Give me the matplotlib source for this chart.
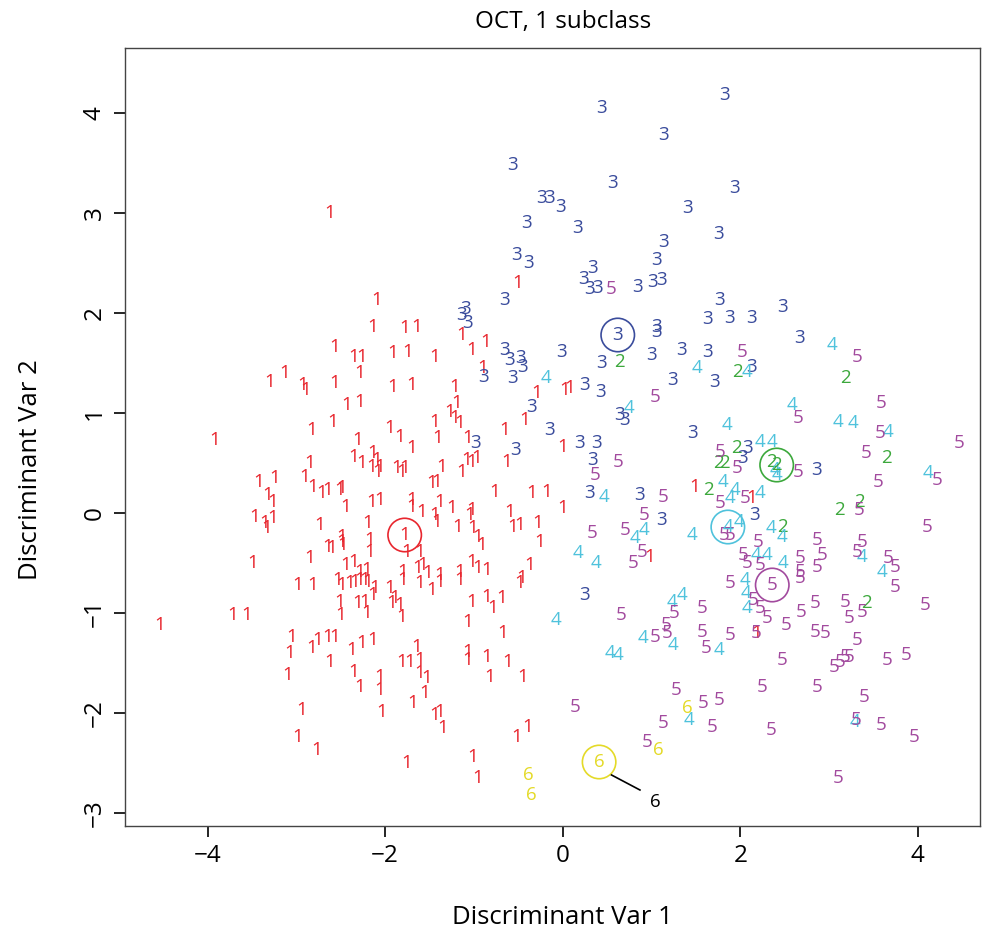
import matplotlib
matplotlib.use("Agg")
import matplotlib.pyplot as plt

plt.rcParams['font.family'] = ['Open Sans', 'DejaVu Sans']

# discriminant scores, one list of (var1, var2) per class
class1 = [(-2.62, 3.00), (-2.09, 2.13), (-2.57, 1.66), (-3.30, 1.31), (-3.13, 1.40),
          (-2.93, 1.28), (-2.89, 1.23), (-2.57, 1.30), (-3.92, 0.73), (-2.83, 0.83),
          (-2.59, 0.91), (-3.43, 0.31), (-3.24, 0.35), (-3.32, 0.18), (-3.27, 0.11),
          (-2.91, 0.36), (-2.85, 0.50), (-2.82, 0.26), (-2.71, 0.20), (-2.65, 0.23),
          (-2.51, 0.23), (-3.47, -0.04), (-3.36, -0.10), (-3.33, -0.15), (-3.27, -0.05),
          (-2.74, -0.12), (-2.65, -0.34), (-2.60, -0.35), (-2.49, -0.29), (-3.49, -0.50),
          (-2.85, -0.45), (-4.54, -1.12), (-3.72, -1.02), (-3.56, -1.02),
          (-2.98, -0.72), (-2.82, -0.72), (-2.53, -0.67), (-2.49, -0.72), (-2.51, -0.89),
          (-2.50, -1.02), (-3.05, -1.24), (-3.07, -1.40), (-2.83, -1.35), (-2.76, -1.27),
          (-2.65, -1.24), (-2.57, -1.24), (-2.62, -1.49), (-3.10, -1.62), (-2.94, -1.97),
          (-2.98, -2.24), (-2.77, -2.37),
          (-2.14, 1.86), (-1.78, 1.85), (-1.64, 1.86), (-1.14, 1.78), (-1.02, 1.63),
          (-0.87, 1.71), (-2.36, 1.56), (-2.26, 1.56), (-2.29, 1.40), (-1.91, 1.60),
          (-1.75, 1.61), (-1.44, 1.56), (-0.90, 1.45), (-1.91, 1.26), (-1.70, 1.28),
          (-1.22, 1.26), (-2.43, 1.08), (-2.29, 1.11), (-1.19, 1.10), (-1.27, 1.01),
          (-1.22, 0.95), (-1.16, 0.90), (-0.29, 1.20), (-0.43, 0.93), (-0.65, 0.83),
          (-1.44, 0.91), (-1.41, 0.75), (-1.95, 0.85), (-1.84, 0.76), (-2.31, 0.73),
          (-1.70, 0.65), (-1.07, 0.75), (-2.36, 0.56), (-2.26, 0.50), (-2.15, 0.46),
          (-2.14, 0.60), (-2.10, 0.53), (-2.08, 0.41), (-2.06, 0.46), (-1.87, 0.45),
          (-1.81, 0.41), (-1.78, 0.45), (-1.48, 0.30), (-1.42, 0.31), (-1.36, 0.46),
          (-1.14, 0.41), (-1.08, 0.53), (-1.02, 0.51), (-0.97, 0.55), (-0.63, 0.51),
          (-2.49, 0.25), (-2.45, 0.06), (-2.15, 0.11), (-2.06, 0.13), (-1.70, 0.13),
          (-1.70, 0.06), (-1.59, 0.01), (-1.44, -0.02), (-1.42, -0.09), (-1.39, 0.11),
          (-1.25, 0.05), (-1.02, 0.03), (-1.05, -0.02), (-0.77, 0.21), (-0.35, 0.20),
          (-0.18, 0.21), (-0.60, 0.01), (-0.56, -0.14), (-0.48, -0.12), (-0.28, -0.10),
          (-0.26, -0.29), (-2.20, -0.10), (-2.17, -0.27), (-2.17, -0.39), (-2.49, -0.24),
          (-2.48, -0.32), (-1.76, -0.39), (-1.61, -0.39), (-1.18, -0.14), (-1.01, -0.15),
          (-0.96, -0.24), (-0.91, -0.32), (-2.45, -0.52), (-2.36, -0.49), (-2.29, -0.59),
          (-2.21, -0.57), (-1.80, -0.59), (-1.63, -0.55), (-1.58, -0.52), (-1.52, -0.60),
          (-1.39, -0.62), (-1.16, -0.59), (-1.02, -0.49), (-0.96, -0.55), (-0.86, -0.57),
          (-0.37, -0.52), (-0.46, -0.65),
          (-2.40, -0.70), (-2.34, -0.69), (-2.29, -0.67), (-2.23, -0.67), (-2.20, -0.69),
          (-2.31, -0.90), (-2.23, -0.89), (-2.21, -1.00), (-2.14, -0.82), (-2.12, -0.75),
          (-1.95, -0.75), (-1.93, -0.90), (-1.89, -0.85), (-1.84, -0.92), (-1.81, -1.04),
          (-1.80, -0.67), (-1.61, -0.70), (-1.48, -0.77), (-1.39, -0.69), (-1.16, -0.67),
          (-1.02, -0.89), (-1.07, -1.09), (-0.86, -0.84), (-0.79, -0.95), (-0.69, -0.85),
          (-0.48, -0.70), (-0.68, -1.20), (-2.38, -1.37), (-2.26, -1.30), (-2.14, -1.27),
          (-1.81, -1.49), (-1.72, -1.49), (-1.64, -1.34), (-1.61, -1.47), (-1.61, -1.60),
          (-1.53, -1.65), (-1.07, -1.39), (-1.07, -1.47), (-0.86, -1.44), (-0.62, -1.49),
          (-0.82, -1.64), (-0.45, -1.64), (-2.36, -1.59), (-2.29, -1.74), (-2.06, -1.64),
          (-2.06, -1.77), (-2.04, -1.99), (-1.69, -1.90), (-1.55, -1.80), (-1.44, -2.02),
          (-1.39, -1.99), (-1.35, -2.15), (-0.52, -2.24), (-0.39, -2.14), (-1.76, -2.50),
          (-1.01, -2.44), (-0.96, -2.65), (-0.51, 2.30),
          (0.02, 1.23), (0.08, 1.25), (0.00, 0.66), (0.00, 0.05), (0.98, -0.44),
          (1.49, 0.26), (2.13, 0.15), (2.18, -1.20)]

class2 = [(0.64, 1.51), (1.97, 1.41), (3.18, 1.35), (1.75, 0.50), (1.82, 0.50),
          (1.96, 0.65), (1.64, 0.23), (3.65, 0.55), (3.34, 0.11), (3.12, 0.03),
          (2.47, -0.14), (3.42, -0.90), (2.35, 0.51)]

class3 = [(0.44, 4.05), (1.82, 4.18), (1.13, 3.78), (0.56, 3.30), (1.94, 3.25),
          (1.40, 3.05), (0.17, 2.85), (1.76, 2.79), (1.13, 2.71), (1.06, 2.53),
          (0.33, 2.45), (0.23, 2.34), (0.39, 2.25), (0.30, 2.24), (0.84, 2.26),
          (1.01, 2.31), (1.11, 2.33), (1.77, 2.13), (1.63, 1.94), (1.88, 1.95),
          (2.13, 1.95), (1.06, 1.86), (2.48, 2.06),
          (-0.56, 3.48), (-0.24, 3.15), (-0.15, 3.15), (-0.03, 3.06), (-0.41, 2.90),
          (-0.52, 2.58), (-0.39, 2.50), (-0.65, 2.13), (-1.14, 1.98), (-1.09, 2.04),
          (-1.07, 1.90), (-0.65, 1.63), (-0.60, 1.53), (-0.48, 1.55), (-0.45, 1.46),
          (-0.56, 1.35), (-0.89, 1.36), (-0.01, 1.61), (-0.35, 1.06), (-0.15, 0.83),
          (-0.98, 0.70), (-0.53, 0.63),
          (1.06, 1.81), (0.44, 1.50), (1.00, 1.58), (1.34, 1.63), (1.63, 1.61),
          (1.71, 1.31), (1.24, 1.33), (2.13, 1.46), (0.25, 1.28), (0.42, 1.21),
          (0.64, 0.98), (0.70, 0.93), (1.46, 0.80), (0.19, 0.70), (0.38, 0.70),
          (0.34, 0.53), (2.08, 0.65), (2.02, 0.55), (0.30, 0.20), (0.87, 0.18),
          (2.16, -0.02), (1.11, -0.07), (2.67, 1.75), (2.86, 0.43), (0.25, -0.82)]

class4 = [(-0.19, 1.35), (1.51, 1.45), (2.08, 1.41), (0.75, 1.05), (1.85, 0.88),
          (2.22, 0.71), (2.36, 0.71), (1.80, 0.31), (0.47, 0.16), (1.88, 0.15),
          (1.94, 0.23), (2.22, 0.20), (1.99, -0.09), (0.81, -0.25), (0.92, -0.17),
          (1.46, -0.22), (0.17, -0.40), (0.38, -0.50), (2.18, -0.42), (2.30, -0.42),
          (2.58, 1.08), (3.10, 0.91), (3.27, 0.90), (3.66, 0.81), (3.03, 1.68),
          (4.11, 0.40), (2.35, -0.15), (2.47, -0.24), (3.37, -0.44), (3.60, -0.59),
          (2.48, -0.50), (-0.08, -1.07), (0.53, -1.40), (0.62, -1.42), (0.90, -1.25),
          (1.24, -1.32), (1.23, -0.89), (1.34, -0.82), (1.76, -1.37), (2.05, -0.67),
          (2.07, -0.80), (2.08, -0.95), (1.42, -2.07), (3.29, -2.09), (2.41, 0.38),
          (2.39, 0.43)]

class5 = [(0.55, 2.24), (2.02, 1.61), (3.32, 1.56), (1.04, 1.16), (0.36, 0.38),
          (0.62, 0.51), (1.77, 0.61), (1.96, 0.45), (1.13, 0.16), (1.77, 0.10),
          (2.05, 0.15), (0.92, -0.02), (1.82, -0.22), (1.88, -0.22), (0.33, -0.20),
          (0.70, -0.17), (0.79, -0.50), (0.90, -0.39), (2.20, -0.29), (2.03, -0.42),
          (2.08, -0.50), (2.22, -0.52), (2.65, 0.95), (3.59, 1.10), (3.57, 0.80),
          (4.47, 0.70), (3.42, 0.60), (2.65, 0.41), (3.55, 0.31), (4.22, 0.33),
          (3.34, 0.03), (4.10, -0.14), (2.87, -0.27), (2.92, -0.42), (3.37, -0.29),
          (3.32, -0.39), (3.66, -0.45), (3.74, -0.54), (2.67, -0.45), (2.67, -0.59),
          (2.86, -0.54), (2.67, -0.65), (3.74, -0.74), (4.08, -0.92), (2.69, -0.99),
          (2.84, -0.90), (3.18, -0.89), (3.37, -0.99), (3.23, -1.05), (2.52, -1.12),
          (2.84, -1.19), (2.95, -1.20), (3.32, -1.27), (2.47, -1.47), (3.06, -1.54),
          (3.12, -1.49), (3.18, -1.44), (3.23, -1.44), (3.65, -1.47), (3.87, -1.42),
          (2.87, -1.74), (3.40, -1.84), (3.31, -2.07), (3.59, -2.12), (3.96, -2.24),
          (2.35, -2.17), (3.10, -2.65), (0.66, -1.02), (1.04, -1.24), (1.17, -1.12),
          (1.18, -1.20), (1.26, -1.00), (1.57, -0.95), (1.57, -1.19), (1.62, -1.35),
          (1.88, -1.22), (2.18, -1.20), (1.88, -0.70), (2.14, -0.87), (2.22, -0.95),
          (2.30, -1.05), (0.14, -1.94), (1.28, -1.77), (1.58, -1.90), (1.76, -1.87),
          (1.13, -2.10), (1.68, -2.14), (2.25, -1.74), (0.95, -2.29)]

class6 = [(-0.39, -2.62), (-0.35, -2.82), (1.40, -1.95), (1.08, -2.37)]

# class means (circled)
means = [(-1.78, -0.22), (2.41, 0.48), (0.62, 1.78), (1.86, -0.14), (2.36, -0.72), (0.41, -2.49)]

labels = ['1', '2', '3', '4', '5', '6']
colors = ['#E8262E', '#3CA83C', '#3A4C9C', '#4FC2DC', '#A24A9E', '#E4DA28']
groups = [class1, class2, class3, class4, class5, class6]

fig = plt.figure(figsize=(9.82, 9.34), dpi=100)
ax = fig.add_axes([125 / 982, 108 / 934, 855 / 982, 778 / 934])

ax.set_xlim(-4.93, 4.70)
ax.set_ylim(-3.13, 4.65)

for lab, col, pts in zip(labels, colors, groups):
    for x, y in pts:
        ax.text(x, y, lab, color=col, fontsize=13.5, ha='center', va='center')

for lab, col, (mx, my) in zip(labels, colors, means):
    ax.scatter(mx, my, s=580, facecolors='none', edgecolors=col, linewidths=1.2)
    ax.text(mx, my, lab, color=col, fontsize=13.5, ha='center', va='center')

# pointer to the class 6 mean
ax.plot([0.55, 0.87], [-2.62, -2.77], color='black', lw=1.2)
ax.text(1.04, -2.89, '6', color='black', fontsize=13.5, ha='center', va='center')

ax.set_xticks([-4, -2, 0, 2, 4])
ax.set_yticks([-3, -2, -1, 0, 1, 2, 3, 4])
ax.set_xticklabels(['\u22124', '\u22122', '0', '2', '4'])
ax.set_yticklabels(['\u22123', '\u22122', '\u22121', '0', '1', '2', '3', '4'],
                   rotation=90, va='center')
ax.tick_params(direction='out', length=8, width=1.2, labelsize=17.5, pad=5)

for sp in ax.spines.values():
    sp.set_color('#444444')
    sp.set_linewidth(1)

ax.set_xlabel('Discriminant Var 1', fontsize=18.5, va='center')
ax.set_ylabel('Discriminant Var 2', fontsize=18.5, va='center')
ax.xaxis.set_label_coords(0.512, -0.118)
ax.yaxis.set_label_coords(-0.111, 0.458)
fig.text(563 / 982, 1 - 22 / 934, 'OCT, 1 subclass', fontsize=17.5, ha='center', va='center')

fig.savefig('out.png', dpi=100)
